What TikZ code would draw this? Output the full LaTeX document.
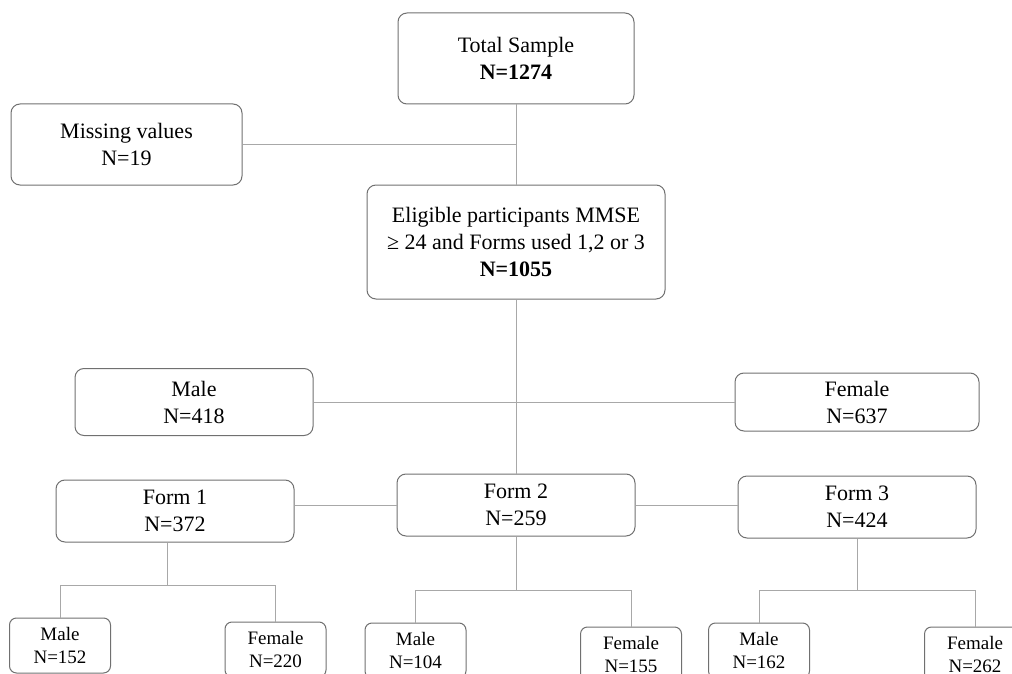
\documentclass[tikz,border=0pt]{standalone}
\usepackage{fontspec}
\setmainfont{Liberation Serif}
\usetikzlibrary{positioning}
\definecolor{boxgray}{RGB}{112,112,112}
\definecolor{linegray}{RGB}{168,168,168}

\begin{document}
\begin{tikzpicture}[
  x=1pt, y=-1pt,
  box/.style={draw=boxgray, line width=1pt, rounded corners=9pt, align=center, inner sep=2pt, font=\fontsize{22}{27}\selectfont},
  formbox/.style={box, minimum width=238pt, minimum height=62pt},
  leaf/.style={box, minimum width=101pt, minimum height=55pt, rounded corners=7pt, font=\fontsize{19}{23}\selectfont},
  link/.style={draw=linegray, line width=1pt},
]
  \useasboundingbox (0,0) rectangle (1012,674);

  % top of the flow
  \node[box, minimum width=236pt, minimum height=91pt] (total) at (516,58.5) {Total Sample\\\textbf{N=1274}};
  \node[box, minimum width=231pt, minimum height=81pt] (missing) at (126.5,144.5) {Missing values\\N=19};
  \node[box, minimum width=298pt, minimum height=114pt, below=80pt of total] (elig) {Eligible participants MMSE\\≥ 24 and Forms used 1,2 or 3\\\textbf{N=1055}};

  % sex split
  \node[box, minimum width=238pt, minimum height=67pt] (male) at (194,402) {Male\\N=418};
  \node[box, minimum width=244pt, minimum height=58pt] (female) at (857,402) {Female\\N=637};

  % forms
  \node[formbox, below=174pt of elig] (form2) {Form 2\\N=259};
  \node[formbox, left=102pt of form2, yshift=-6pt] (form1) {Form 1\\N=372};
  \node[formbox, right=102pt of form2, yshift=-2pt] (form3) {Form 3\\N=424};

  % sex within each form
  \node[leaf] (m1) at (60,645.5) {Male\\N=152};
  \node[leaf] (f1) at (275.5,649.5) {Female\\N=220};
  \node[leaf] (m2) at (415.5,650.5) {Male\\N=104};
  \node[leaf] (f2) at (631,654.5) {Female\\N=155};
  \node[leaf] (m3) at (759,650.5) {Male\\N=162};
  \node[leaf] (f3) at (975,654.5) {Female\\N=262};

  \draw[link] (total) -- (elig);
  \draw[link] (missing.east) -- (missing.east -| total.south);
  \draw[link] (elig) -- (form2);
  \draw[link] (male.east) -- (female.west);
  \draw[link] (form2.west) -- (form2.west -| form1.east);
  \draw[link] (form2.east) -- (form2.east -| form3.west);

  % branches to the leaves
  \draw[link] ([xshift=-8pt]form1.south) -- ++(0,43) coordinate (s1);
  \draw[link] (m1.north) |- (s1) -| (f1.north);
  \draw[link] (form2.south) -- ++(0,54) coordinate (s2);
  \draw[link] (m2.north) |- (s2) -| (f2.north);
  \draw[link] (form3.south) -- ++(0,52) coordinate (s3);
  \draw[link] (m3.north) |- (s3) -| (f3.north);
\end{tikzpicture}
\end{document}
